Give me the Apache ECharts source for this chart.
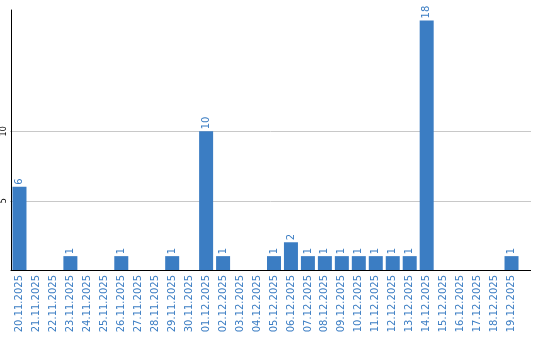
<!DOCTYPE html>
<html><head><meta charset="utf-8">
<script src="https://cdn.jsdelivr.net/npm/echarts@6/dist/echarts.min.js"></script>
<style>html,body{margin:0;padding:0;background:#fff}#c{width:540px;height:340px}</style>
</head><body><div id="c"></div>
<script>
const categories = ["20.11.2025","21.11.2025","22.11.2025","23.11.2025","24.11.2025","25.11.2025","26.11.2025","27.11.2025","28.11.2025","29.11.2025","30.11.2025","01.12.2025","02.12.2025","03.12.2025","04.12.2025","05.12.2025","06.12.2025","07.12.2025","08.12.2025","09.12.2025","10.12.2025","11.12.2025","12.12.2025","13.12.2025","14.12.2025","15.12.2025","16.12.2025","17.12.2025","18.12.2025","19.12.2025"];
const values = [6,0,0,1,0,0,1,0,0,1,0,10,1,0,0,1,2,1,1,1,1,1,1,1,18,0,0,0,0,1];
const yTickLabels = [5,10];
const blue = '#3b7dc3';
const chart = echarts.init(document.getElementById('c'), null, {renderer:'canvas'});
chart.setOption({
  animation:false,
  grid:{left:10, top:10, width:510, height:260, containLabel:false},
  xAxis:{type:'category', data:categories, boundaryGap:true,
    axisLine:{lineStyle:{color:'#000', width:1}}, axisTick:{show:false},
    axisLabel:{rotate:90, color:blue, fontFamily:'DejaVu Sans', fontSize:10, margin:5, interval:0}},
  yAxis:{type:'value', min:0, max:18.75, interval:5,
    axisLine:{show:true, lineStyle:{color:'#000', width:1}}, axisTick:{show:false},
    splitLine:{show:false},
    axisLabel:{rotate:90, color:'#000', fontFamily:'DejaVu Sans', fontSize:8, margin:3,
      formatter:v=> yTickLabels.includes(v) ? String(v) : ''}},
  series:[{type:'bar', data:values, barWidth:14, itemStyle:{color:blue}, z:3,
    label:{show:true, position:'top', rotate:90, align:'left', verticalAlign:'middle', distance:2,
      color:blue, fontFamily:'DejaVu Sans', fontSize:10, formatter:p=> p.value ? String(p.value) : ''}
  }]
});
const x0 = chart.convertToPixel({gridIndex:0}, [0, 0]);
const gridLines = yTickLabels.map(v => {
  const y = Math.round(chart.convertToPixel({yAxisIndex:0}, v)) + 0.5;
  return {type:'line', z:-1, silent:true, shape:{x1:10, y1:y, x2:531, y2:y}, style:{stroke:'#c8c8c8', lineWidth:1}};
});
const y0 = Math.round(chart.convertToPixel({yAxisIndex:0}, 0)) + 0.5;
gridLines.push({type:'line', silent:true, shape:{x1:520, y1:y0, x2:531, y2:y0}, style:{stroke:'#000', lineWidth:1}});
chart.setOption({graphic:gridLines});
</script></body></html>
